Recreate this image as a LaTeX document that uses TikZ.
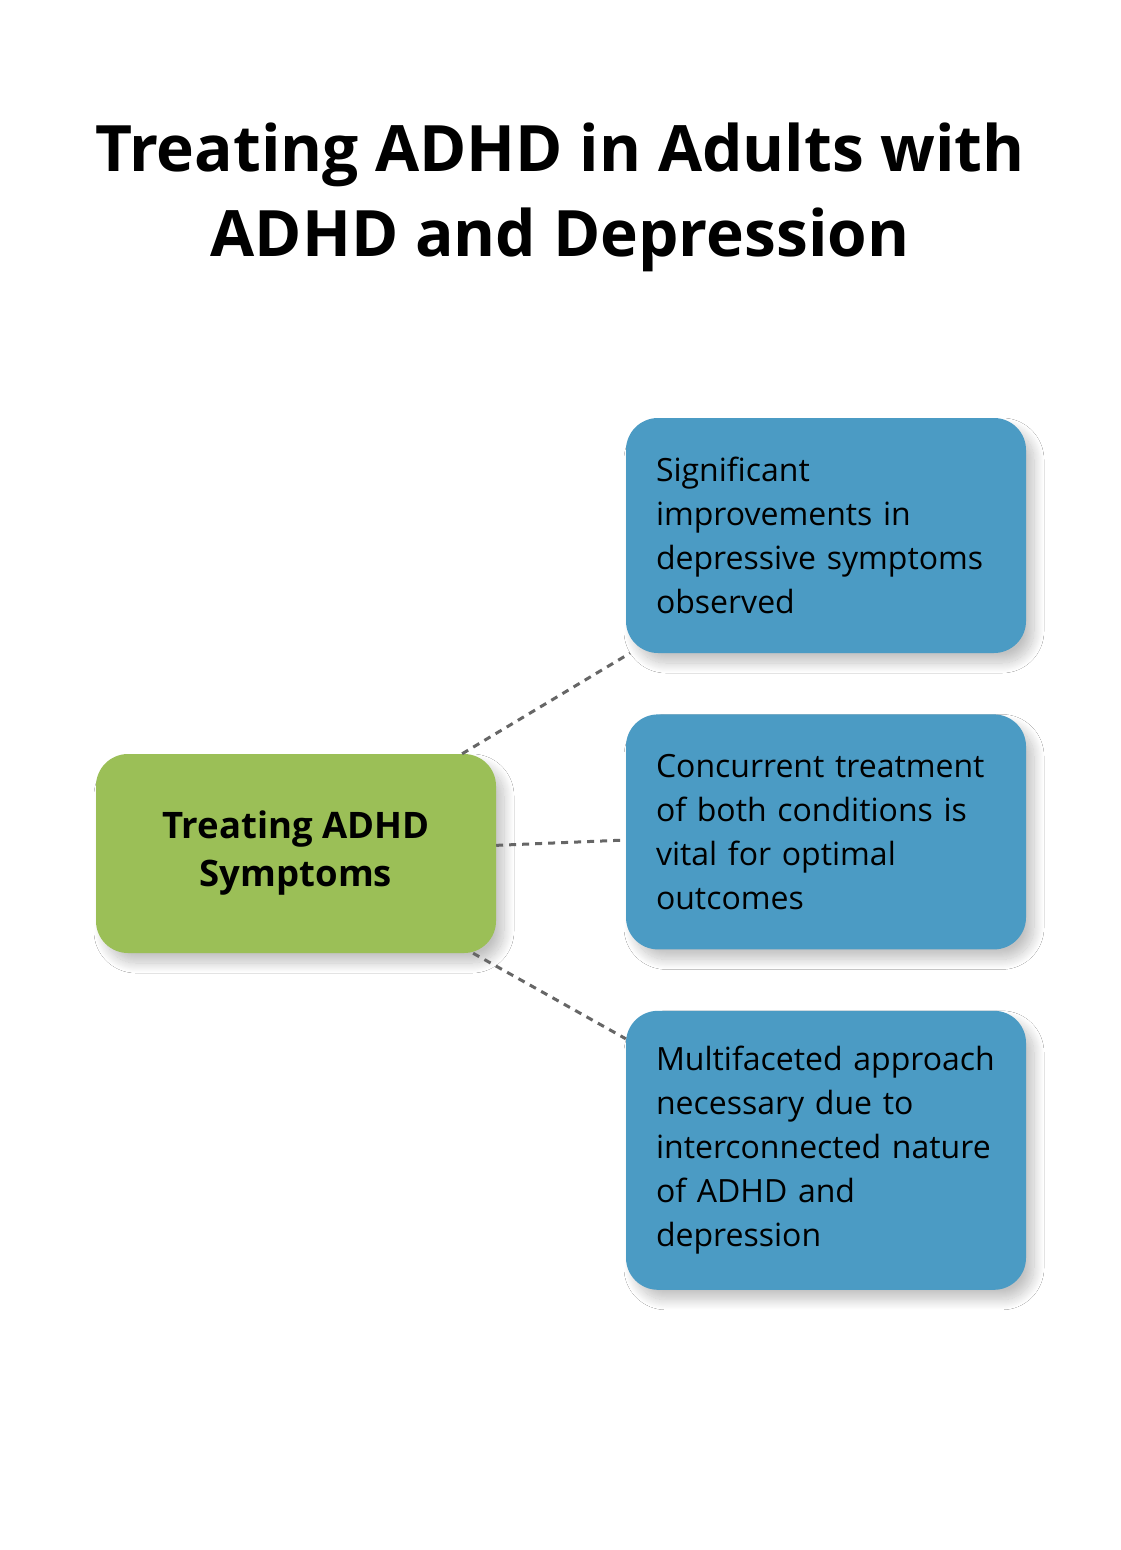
\documentclass[tikz,border=0pt]{standalone}
\usepackage{fontspec}
\setmainfont{Open Sans}
\usepackage{tikz}
\usetikzlibrary{shapes, positioning, shadows.blur}
\definecolor{leafgreen}{HTML}{9BBF57}
\definecolor{calmblue}{HTML}{4B9BC4}
\definecolor{linkgray}{HTML}{666666}

\begin{document}
\begin{tikzpicture}[x=1pt, y=1pt, node distance=61pt,
        box/.style={rectangle, rounded corners=32pt, blur shadow={shadow xshift=8pt, shadow yshift=-10pt, shadow blur radius=10pt, shadow blur steps=20, shadow opacity=24}},
        effect/.style={box, fill=calmblue, text width=340pt, inner xsep=30pt, inner ysep=0pt, align=left, font=\fontsize{32}{44}\selectfont},
        link/.style={draw=linkgray, line width=3pt, dash pattern=on 7pt off 6pt}]
        \fill[white] (0,0) rectangle (1120,-1550);
        \useasboundingbox (0,0) rectangle (1120,-1550);
        \node (title) at (560,-197) [align=center, font=\bfseries\fontsize{64}{85}\selectfont] {Treating ADHD in Adults with\\ADHD and Depression};
        \node (symptoms) at (296,-853.5) [box, fill=leafgreen, minimum width=400pt, minimum height=199pt, inner sep=0pt, align=center, font=\bfseries\fontsize{36.5}{48}\selectfont] {Treating ADHD\\Symptoms};
        \node (improve) at (826,-535.5) [effect, minimum height=235pt] {Significant\\improvements in\\depressive symptoms\\observed};
        \node (concurrent) [effect, minimum height=235pt, below=of improve] {Concurrent treatment\\of both conditions is\\vital for optimal\\outcomes};
        \node (approach) [effect, minimum height=279pt, below=of concurrent] {Multifaceted approach\\necessary due to\\interconnected nature\\of ADHD and\\depression};

        \draw[link] (symptoms) -- (improve);
        \draw[link] (symptoms) -- (concurrent);
        \draw[link] (symptoms) -- (approach);
    \end{tikzpicture}
\end{document}
